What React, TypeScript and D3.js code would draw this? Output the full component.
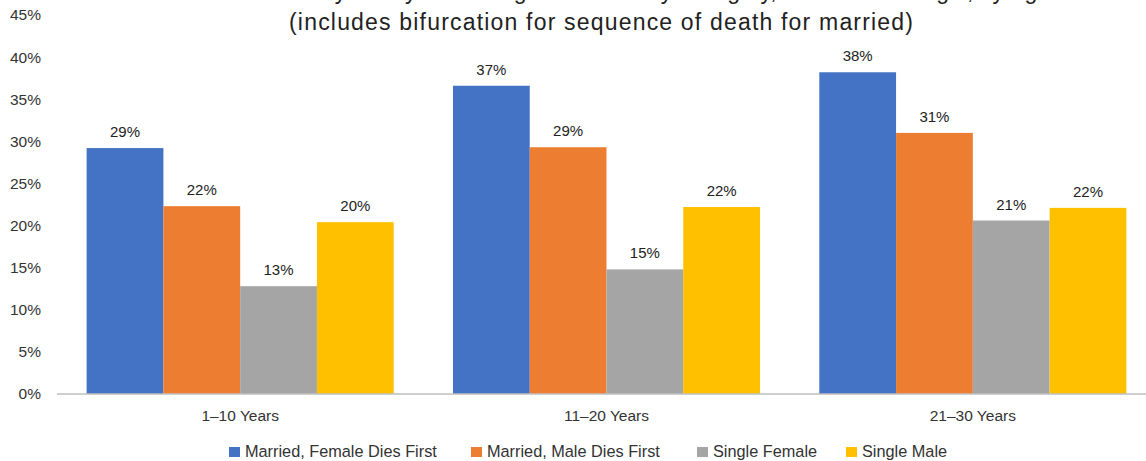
import { scaleBand, scaleLinear, range } from "d3";

const width = 1146;
const height = 461;
// plot area runs slightly past the right edge, as in the reference crop
const margin = { top: 15, right: -10, bottom: 67, left: 57 };

const categories = ["1–10 Years", "11–20 Years", "21–30 Years"];
const seriesNames = [
  "Married, Female Dies First",
  "Married, Male Dies First",
  "Single Female",
  "Single Male",
];
const colors = ["#4472C4", "#ED7D31", "#A5A5A5", "#FFC000"];

// one array per series, values in % per category
const marriedFemaleFirst = [29.2, 36.6, 38.2];
const marriedMaleFirst = [22.3, 29.3, 31.0];
const singleFemale = [12.8, 14.8, 20.6];
const singleMale = [20.4, 22.2, 22.1];
const seriesValues = [marriedFemaleFirst, marriedMaleFirst, singleFemale, singleMale];

const yTicks = [0, 5, 10, 15, 20, 25, 30, 35, 40, 45];

const font = "'Liberation Sans', Arial, sans-serif";

function App() {
  const x0 = scaleBand<string>()
    .domain(categories)
    .range([margin.left, width - margin.right]);

  const x1 = scaleBand<number>()
    .domain(range(seriesNames.length))
    .range([0, x0.bandwidth()])
    .paddingOuter(0.386)
    .paddingInner(0);

  const y = scaleLinear()
    .domain([0, 45])
    .range([height - margin.bottom, margin.top]);

  // legend item x positions
  const legendX = [229, 471, 697, 846];

  return (
    <svg
      width={width}
      height={height}
      style={{ position: "absolute", left: 0, top: 0, background: "#fff" }}
      fontFamily={font}
    >
      {/* title, first line sits mostly above the frame */}
      <text x={601} y={-1} textAnchor="middle" fontSize={23} fill="#222">
        Lifetime Probability of Any Paid Long-Term Care by Category, Married vs. Single, by Age
      </text>
      <text
        x={601}
        y={30}
        textAnchor="middle"
        fontSize={23}
        fill="#222"
        textLength={624}
      >
        (includes bifurcation for sequence of death for married)
      </text>

      {/* y tick labels */}
      {yTicks.map((t) => (
        <text
          key={t}
          x={41}
          y={y(t)}
          dy="0.35em"
          textAnchor="end"
          fontSize={15.5}
          fill="#333"
        >
          {t}%
        </text>
      ))}

      {/* bars */}
      {categories.map((c, ci) => (
        <g key={c} transform={`translate(${x0(c)},0)`}>
          {seriesValues.map((vals, si) => (
            <g key={si}>
              <rect
                x={x1(si)}
                y={y(vals[ci])}
                width={x1.bandwidth()}
                height={y(0) - y(vals[ci])}
                fill={colors[si]}
              />
              <text
                x={(x1(si) ?? 0) + x1.bandwidth() / 2}
                y={y(vals[ci]) - 11}
                textAnchor="middle"
                fontSize={15}
                fill="#222"
              >
                {Math.round(vals[ci])}%
              </text>
            </g>
          ))}
        </g>
      ))}

      {/* baseline */}
      <line
        x1={margin.left}
        x2={width - margin.right}
        y1={y(0)}
        y2={y(0)}
        stroke="#bfbfbf"
        strokeWidth={1.5}
      />

      {/* category labels */}
      {categories.map((c) => (
        <text
          key={c}
          x={(x0(c) ?? 0) + x0.bandwidth() / 2}
          y={421}
          textAnchor="middle"
          fontSize={15.5}
          fill="#333"
        >
          {c}
        </text>
      ))}

      {/* legend */}
      {seriesNames.map((name, i) => (
        <g key={name} transform={`translate(${legendX[i]},446)`}>
          <rect x={0} y={1} width={11} height={10} fill={colors[i]} />
          <text x={16} y={11} fontSize={16.3} fill="#333">
            {name}
          </text>
        </g>
      ))}
    </svg>
  );
}

export default App;
